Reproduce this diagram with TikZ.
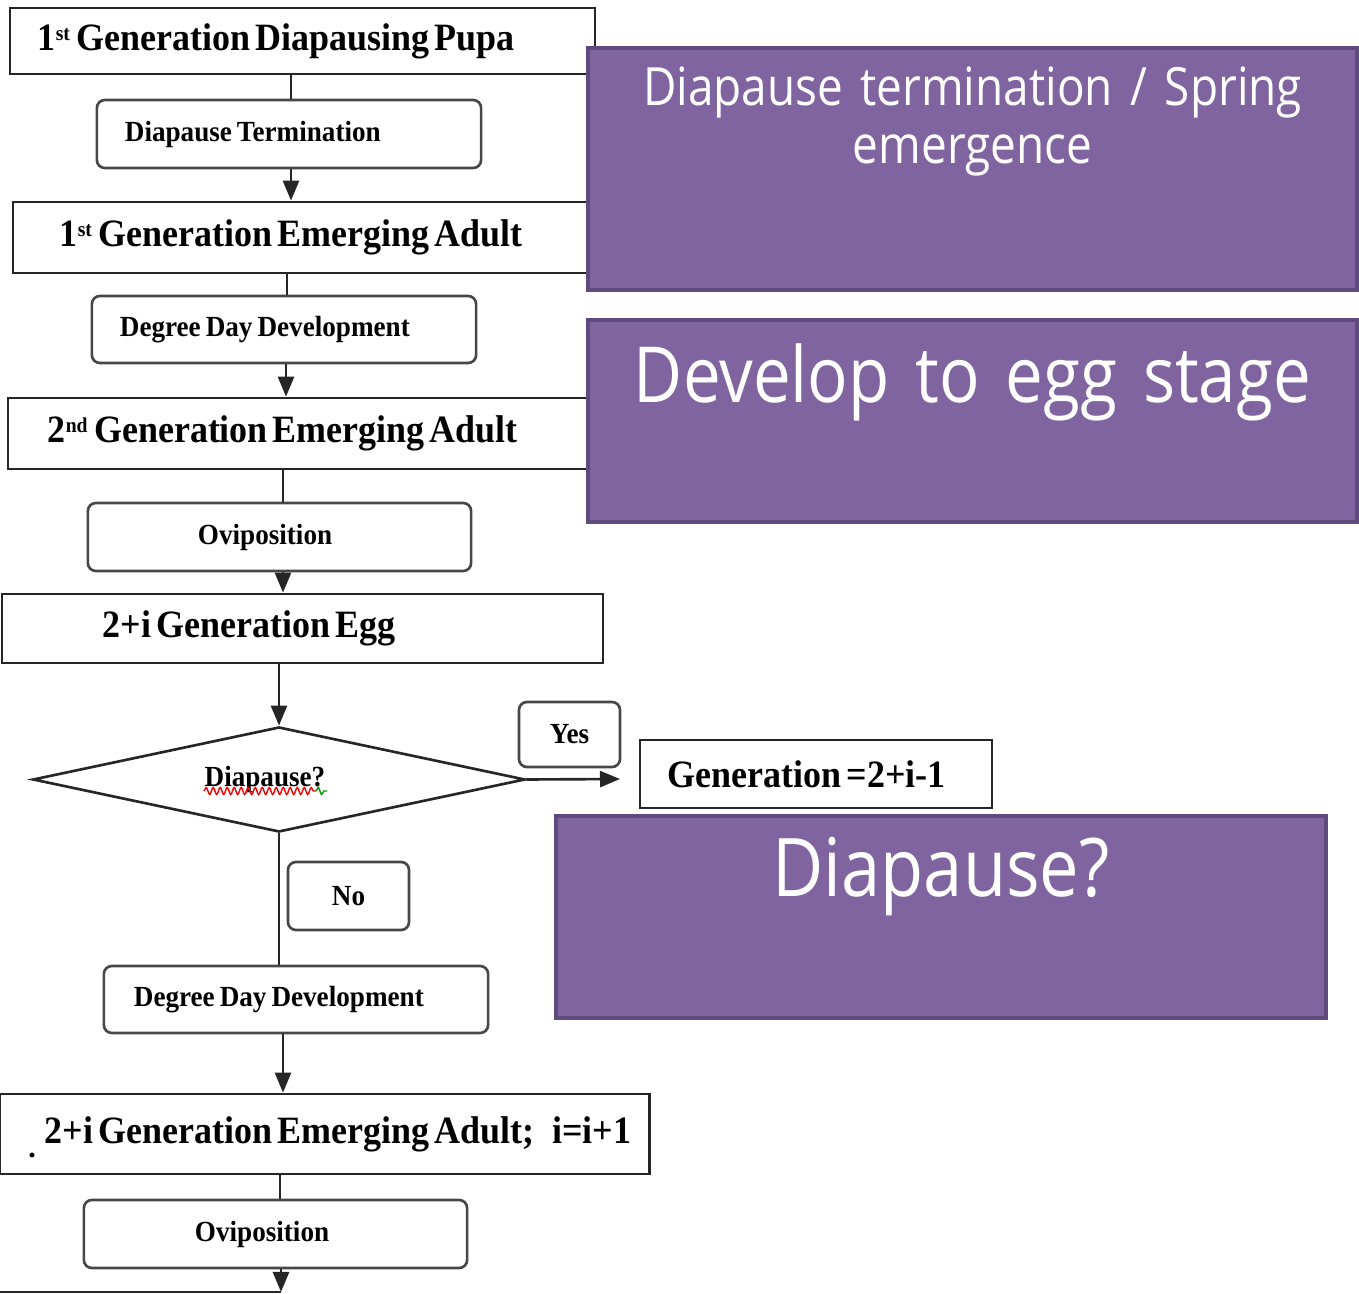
\documentclass[tikz,border=0pt]{standalone}
\usepackage{fontspec}
\setmainfont{Liberation Serif}
\newfontfamily\flowfont{Liberation Serif}[FakeStretch=0.93]
\newfontfamily\notefont{Open Sans}[FakeStretch=0.87]
\usepackage{tikz}
\usetikzlibrary{shapes.geometric,arrows.meta,positioning,decorations.pathmorphing}
\definecolor{purplefill}{HTML}{8064A0}
\definecolor{purpleedge}{HTML}{5E4A7D}
\definecolor{flowline}{HTML}{262626}
\newcommand{\gensup}[1]{\raisebox{0.55ex}{\fontsize{6}{6}\selectfont #1}\,}
\newcommand{\wsp}{\hspace{0.05cm}}
\newcommand{\bigflow}{\flowfont\bfseries\fontsize{11}{13}\selectfont}
\newcommand{\smallflow}{\flowfont\bfseries\fontsize{8.3}{10}\selectfont}

\begin{document}
\begin{tikzpicture}[x=0.01cm, y=-0.01cm, >={Triangle[width=1.6mm,length=2mm]},
    stagebox/.style={draw=flowline, line width=0.75pt, inner xsep=0pt, align=left, font=\bigflow},
    stepbox/.style={draw=flowline!85, line width=0.75pt, rounded corners=0.8mm, inner xsep=0pt, align=left, font=\smallflow},
    notebox/.style={draw=purpleedge, fill=purplefill, line width=1.2pt, text=white, inner sep=0pt,
      align=center, font=\notefont}]
   \useasboundingbox (0,0) rectangle (1359,1294);
   % flow chart
   \begin{scope}
    \node (pupa)   [stagebox, text width=5.85cm, minimum height=0.66cm] at (302.5,41)  {\mbox{\hspace*{0.28cm}1\gensup{st}Generation\wsp Diapausing\wsp Pupa}};
    \node (dterm)  [stepbox, text width=3.84cm, minimum height=0.68cm]  at (289,134)   {\mbox{\hspace*{0.28cm}Diapause\wsp Termination}};
    \node (adult1) [stagebox, text width=5.82cm, minimum height=0.71cm] at (304,237.5) {\mbox{\hspace*{0.47cm}1\gensup{st}Generation\wsp Emerging\wsp Adult}};
    \node (ddd1)   [stepbox, text width=3.84cm, minimum height=0.67cm]  at (284,329.5) {\mbox{\hspace*{0.28cm}Degree\wsp Day\wsp Development}};
    \node (adult2) [stagebox, text width=5.87cm, minimum height=0.71cm] at (301.5,433.5) {\mbox{\hspace*{0.40cm}2\gensup{nd}Generation\wsp Emerging\wsp Adult}};
    \node (ovip1)  [stepbox, text width=3.83cm, minimum height=0.68cm]  at (279.5,537) {\hspace*{1.10cm}Oviposition};
    \node (egg)    [stagebox, text width=6.01cm, minimum height=0.69cm] at (302.5,628.5) {\mbox{\hspace*{1.01cm}2+i\wsp Generation\wsp Egg}};
    \node (diap)   [diamond, draw=flowline, line width=0.75pt, inner sep=0pt, aspect=4.69, minimum width=4.92cm, minimum height=1.05cm,
                    font=\smallflow] at (279,779.5) {\hspace*{-0.28cm}Diapause?};
    \node (yes)    [stepbox, align=center, minimum width=1.01cm, minimum height=0.65cm] at (569.5,734.5) {Yes};
    \node (gen)    [stagebox, text width=3.52cm, minimum height=0.68cm] at (816,774) {\mbox{\hspace*{0.28cm}Generation\wsp =2+i-1}};
    \node (no)     [stepbox, align=center, minimum width=1.21cm, minimum height=0.68cm] at (348.5,896) {No};
    \node (ddd2)   [stepbox, text width=3.84cm, minimum height=0.67cm]  at (296,999.5) {\mbox{\hspace*{0.30cm}Degree\wsp Day\wsp Development}};
    \node (adulti) [stagebox, text width=6.49cm, minimum height=0.80cm] at (324.5,1134) {\mbox{\hspace*{0.45cm}2+i\wsp Generation\wsp Emerging\wsp Adult;\hspace{0.18cm}i=i+1}};
    \node (ovip2)  [stepbox, text width=3.83cm, minimum height=0.68cm]  at (275.5,1234) {\hspace*{1.11cm}Oviposition};
   \end{scope}
   % spell check marks and stray dot
   \draw[red, line width=0.4pt, decorate, decoration={snake, amplitude=0.35mm, segment length=0.7mm}] (204,791) -- (316,791);
   \draw[green!60!black, line width=0.4pt, decorate, decoration={snake, amplitude=0.35mm, segment length=0.7mm}] (316,791) -- (327,791);
   \fill (32,1155) circle[radius=0.25mm];
   \coordinate (yesend) at (620,779);
   \coordinate (cutleft) at (0,1292);
   \coordinate (cutmid) at (281,1292);
   \begin{scope}[draw=flowline, line width=0.75pt]
    \draw  (pupa.south -| 291,0) -- (dterm.north -| 291,0);
    \draw[->]  (dterm.south -| 291,0) -- (adult1.north -| 291,0);
    \draw  (adult1.south -| 287,0) -- (ddd1.north -| 287,0);
    \draw[->]  (ddd1.south -| 286,0) -- (adult2.north -| 286,0);
    \draw  (adult2.south -| 283,0) -- (ovip1.north -| 283,0);
    \draw[->]  (ovip1.south -| 283,0) -- (egg.north -| 283,0);
    \draw[->]  (egg.south -| diap.north) -- (diap.north);
    \draw[->]  (diap.east) -- (yesend);
    \draw  (diap.south) -- (ddd2.north -| diap.south);
    \draw[->]  (ddd2.south -| 283,0) -- (adulti.north -| 283,0);
    \draw  (adulti.south -| 280,0) -- (ovip2.north -| 280,0);
    \draw[->]  (ovip2.south -| 281,0) -- (cutmid);
    \draw  (cutleft) -- (cutmid);
   \end{scope}
   % purple notes on top
   \begin{scope}
    \node (spring)   [notebox, text width=7.69cm, text height=0.58cm, text depth=1.84cm, font=\notefont\fontsize{15}{16.5}\selectfont]
                     at (972.5,169) {Diapause termination / Spring\\emergence};
    \node (eggstage) [notebox, text width=7.69cm, text height=0.83cm, text depth=1.19cm, font=\notefont\fontsize{22}{26}\selectfont]
                     at (972.5,421) {Develop to egg stage};
    \node (diapnote) [notebox, text width=7.70cm, text height=0.81cm, text depth=1.21cm, font=\notefont\fontsize{23}{26}\selectfont]
                     at (941,917) {Diapause?};
   \end{scope}
\end{tikzpicture}
\end{document}
